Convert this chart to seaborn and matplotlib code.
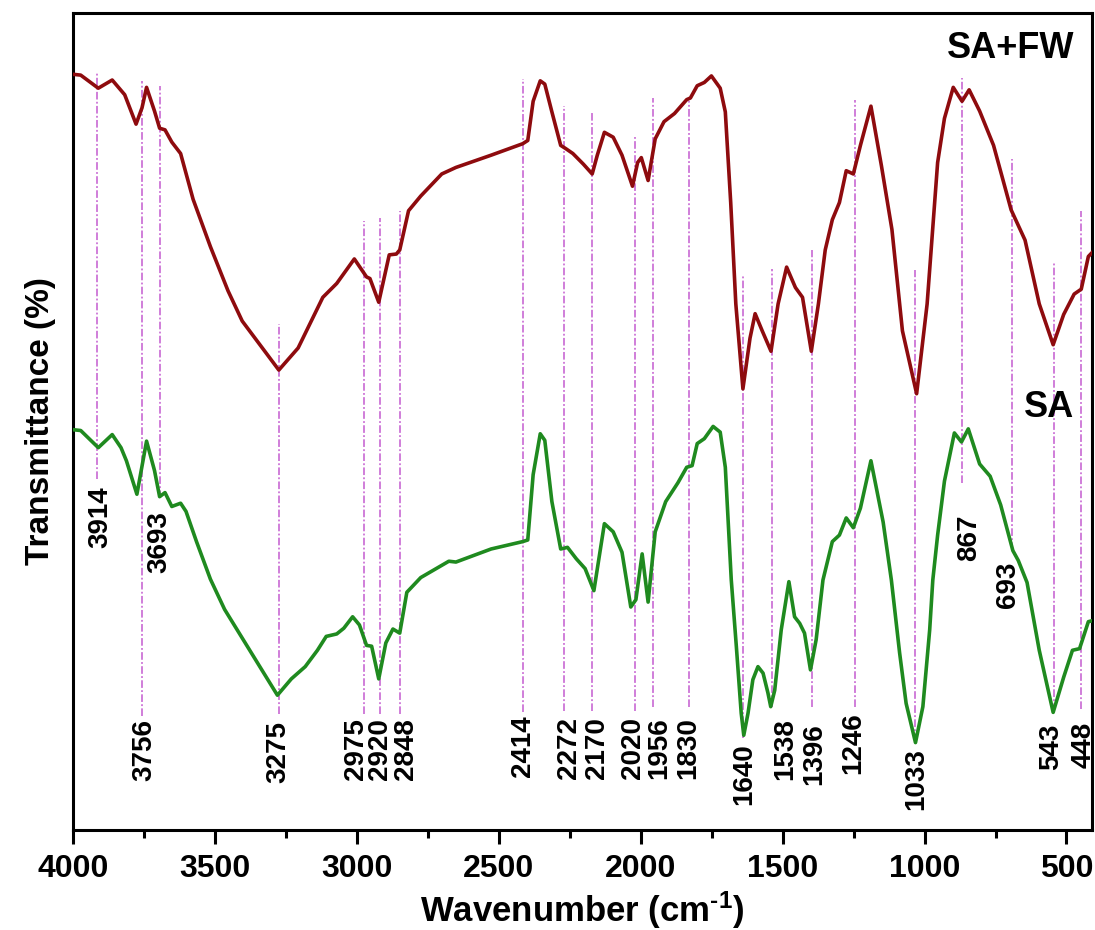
import numpy as np
import pandas as pd
import matplotlib
matplotlib.use("Agg")
import matplotlib.pyplot as plt
import seaborn as sns
from matplotlib.ticker import MultipleLocator

# ---------------- data ----------------
red_wn = [4000, 3973, 3911, 3862, 3818, 3778, 3757, 3741, 3713, 3695, 3676, 3652, 3621, 3577, 3516,
          3454, 3404, 3275, 3207, 3120, 3071, 3009, 2966, 2954, 2923, 2886, 2861, 2849, 2818, 2775,
          2701, 2651, 2527, 2416, 2398, 2379, 2354, 2338, 2313, 2282, 2264, 2239, 2202, 2171, 2153,
          2128, 2097, 2066, 2029, 2011, 1998, 1974, 1949, 1918, 1881, 1838, 1825, 1801, 1776, 1751,
          1720, 1702, 1683, 1665, 1640, 1615, 1597, 1572, 1541, 1516, 1486, 1455, 1430, 1399, 1374,
          1350, 1325, 1300, 1276, 1251, 1226, 1189, 1152, 1115, 1078, 1028, 991, 954, 930, 899,
          868, 843, 806, 757, 695, 646, 596, 547, 510, 473, 448, 423, 401]
red_t = [92.5, 92.4, 90.8, 91.8, 90.0, 86.4, 88.4, 90.9, 88.0, 85.9, 85.7, 84.2, 82.8, 77.2, 71.4,
         66.0, 62.3, 56.3, 59.0, 65.2, 66.9, 69.9, 67.7, 67.5, 64.6, 70.4, 70.5, 71.0, 75.8, 77.6,
         80.3, 81.1, 82.6, 84.0, 84.4, 89.2, 91.7, 91.3, 87.9, 83.8, 83.4, 82.8, 81.5, 80.3, 82.6,
         85.4, 84.8, 82.6, 78.8, 81.7, 82.3, 79.5, 84.6, 86.7, 87.7, 89.4, 89.6, 91.1, 91.5, 92.3,
         90.8, 87.9, 76.8, 64.4, 54.0, 60.2, 63.2, 61.1, 58.6, 64.4, 68.9, 66.4, 65.2, 58.6, 64.4,
         71.0, 74.7, 76.8, 80.7, 80.3, 83.8, 88.6, 81.3, 73.5, 61.1, 53.4, 64.4, 81.7, 87.1, 90.9,
         89.2, 90.6, 88.0, 83.8, 75.9, 72.2, 64.4, 59.4, 63.1, 65.6, 66.2, 70.2, 71.0]

green_wn = [4000, 3973, 3911, 3862, 3831, 3812, 3775, 3741, 3713, 3695, 3676, 3652, 3621, 3602, 3565,
            3516, 3466, 3404, 3280, 3231, 3182, 3139, 3108, 3071, 3046, 3015, 2991, 2966, 2948, 2923,
            2898, 2873, 2849, 2824, 2775, 2676, 2651, 2527, 2416, 2398, 2379, 2354, 2338, 2313, 2282,
            2258, 2227, 2196, 2165, 2128, 2097, 2066, 2035, 2017, 1995, 1974, 1949, 1912, 1869, 1838,
            1819, 1801, 1776, 1745, 1720, 1702, 1681, 1663, 1646, 1637, 1622, 1605, 1587, 1569, 1552,
            1542, 1528, 1505, 1478, 1458, 1440, 1423, 1402, 1382, 1358, 1325, 1300, 1276, 1251, 1226,
            1189, 1146, 1117, 1088, 1065, 1032, 1006, 982, 971, 954, 930, 895, 870, 846, 806,
            769, 732, 689, 670, 639, 596, 547, 510, 479, 454, 423, 401]
green_t = [49.0, 48.9, 46.8, 48.4, 46.8, 45.2, 41.1, 47.6, 44.0, 40.8, 41.3, 39.6, 40.0, 39.0, 35.3,
           30.7, 27.0, 23.5, 16.5, 18.5, 20.0, 22.0, 23.7, 24.0, 24.7, 26.1, 25.1, 22.6, 22.5, 18.5,
           22.9, 24.6, 24.1, 29.1, 30.9, 32.9, 32.8, 34.4, 35.3, 35.5, 43.5, 48.5, 47.7, 40.2, 34.4,
           34.6, 33.2, 32.0, 29.3, 37.5, 36.5, 34.0, 27.3, 28.2, 33.8, 27.9, 36.5, 40.2, 42.5, 44.4,
           44.6, 47.3, 47.9, 49.4, 48.7, 44.4, 30.6, 22.4, 14.3, 11.6, 14.3, 18.4, 20.0, 19.2, 16.8,
           15.1, 17.1, 24.5, 30.4, 26.1, 25.3, 24.1, 19.6, 23.3, 30.6, 35.3, 36.1, 38.2, 37.0, 39.4,
           45.2, 37.7, 30.6, 21.7, 15.5, 10.7, 15.1, 24.5, 30.6, 36.1, 42.7, 48.6, 47.5, 49.1, 44.8,
           43.3, 39.8, 34.2, 33.0, 30.3, 22.0, 14.4, 18.7, 22.0, 22.2, 25.5, 25.7]

peak_wn = [3914, 3756, 3693, 3275, 2975, 2920, 2848, 2414, 2272, 2170, 2020, 1956, 1830,
           1640, 1538, 1396, 1246, 1033, 867, 693, 543, 448]
line_top = [92.6, 91.7, 91.1, 61.9, 74.5, 74.9, 75.8, 91.9, 88.6, 87.8, 84.8, 89.6, 89.2,
            67.9, 68.7, 71.0, 89.4, 68.5, 92.0, 82.1, 69.4, 75.8]
line_bottom = [43.0, 14.0, 40.6, 14.2, 14.2, 14.2, 14.2, 14.4, 14.6, 14.6, 14.6, 15.1, 15.1,
               11.3, 15.1, 15.1, 15.1, 10.9, 42.5, 34.3, 14.6, 14.8]
label_x = [3905, 3748, 3695, 3275, 3004, 2918, 2828, 2416, 2254, 2153, 2027, 1933, 1831,
           1636, 1490, 1387, 1251, 1031, 843, 707, 553, 440]
label_top = [42.1, 13.6, 39.0, 13.3, 13.7, 13.7, 13.7, 14.0, 13.8, 13.8, 13.8, 13.8, 13.8,
             10.6, 13.7, 13.1, 14.4, 10.0, 38.6, 32.8, 13.0, 13.3]

series_names = ["SA+FW", "SA"]
series_label_pos = [(472, 95.7), (472, 51.7)]
x_ticks = [4000, 3500, 3000, 2500, 2000, 1500, 1000, 500]

# ---------------- style ----------------
sns.set_style("ticks")
plt.rcParams['font.family'] = ['Liberation Sans', 'DejaVu Sans']
plt.rcParams['font.weight'] = 'bold'
plt.rcParams['text.color'] = 'black'
plt.rcParams['axes.labelcolor'] = 'black'
plt.rcParams['xtick.color'] = 'black'
plt.rcParams['ytick.color'] = 'black'
plt.rcParams['mathtext.fontset'] = 'custom'
plt.rcParams['mathtext.rm'] = 'Liberation Sans:bold'
plt.rcParams['mathtext.bf'] = 'Liberation Sans:bold'
plt.rcParams['mathtext.default'] = 'bf'

RED = "#8E0B0E"
GREEN = "#1F8A1F"
VLINE = "#C45BD0"

fig = plt.figure(figsize=(10.95, 9.3), dpi=100)
ax = fig.add_axes([0.0667, 0.1075, 0.9306, 0.8785])

df_red = pd.DataFrame({"wn": red_wn, "T": red_t})
df_green = pd.DataFrame({"wn": green_wn, "T": green_t})

# vertical marker lines
for wn, top, bot in zip(peak_wn, line_top, line_bottom):
    ax.plot([wn, wn], [bot, top], color=VLINE, lw=1.1,
            linestyle=(0, (5, 1.5, 1.2, 1.5)), zorder=1)

sns.lineplot(data=df_red, x="wn", y="T", sort=False, estimator=None,
             color=RED, linewidth=2.6, ax=ax, zorder=3,
             solid_joinstyle='round', solid_capstyle='round')
sns.lineplot(data=df_green, x="wn", y="T", sort=False, estimator=None,
             color=GREEN, linewidth=2.6, ax=ax, zorder=3,
             solid_joinstyle='round', solid_capstyle='round')

# peak labels
for wn, lx, lt in zip(peak_wn, label_x, label_top):
    ax.text(lx, lt, str(wn), rotation=90, ha='center', va='top',
            fontsize=20, fontweight='bold', color='black', zorder=4)

for name, (sx, sy) in zip(series_names, series_label_pos):
    ax.text(sx, sy, name, ha='right', va='center', fontsize=26,
            fontweight='bold', color='black')

ax.set_xlim(4000, 410)
ax.set_ylim(0, 100)
ax.set_xticks(x_ticks)
ax.xaxis.set_minor_locator(MultipleLocator(250))
ax.set_yticks([])
ax.tick_params(axis='x', which='major', direction='out', length=10, width=2.2,
               labelsize=23, pad=7, colors='black')
ax.tick_params(axis='x', which='minor', direction='out', length=6, width=2.2, colors='black')
for lab in ax.get_xticklabels():
    lab.set_fontweight('bold')
for s in ax.spines.values():
    s.set_linewidth(2.2)
    s.set_color('black')

ax.set_xlabel(r"Wavenumber (cm$^{\text{-1}}$)", fontsize=25, fontweight='bold',
              labelpad=4, color='black')
ax.set_ylabel("Transmittance (%)", fontsize=24, fontweight='bold', labelpad=12,
              color='black')

fig.savefig("out.png", dpi=100)
